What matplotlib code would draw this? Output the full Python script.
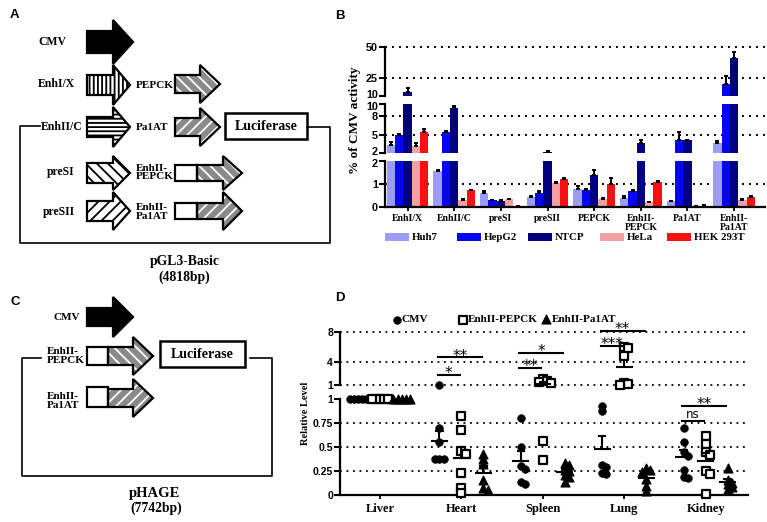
import numpy as np
import matplotlib
matplotlib.use("Agg")
import matplotlib.pyplot as plt
import matplotlib.transforms as mtransforms
from matplotlib.patches import Polygon, Rectangle

plt.rcParams["hatch.linewidth"] = 1.3
SERIF = "Liberation Serif"
SANS = "Liberation Sans"
W, H = 767, 522

# ---- panel B data (% of CMV activity) ----
constructs = ["EnhI/X", "EnhII/C", "preSI", "preSII", "PEPCK",
              "EnhII-\nPEPCK", "Pa1AT", "EnhII-\nPa1AT"]
cell_lines = ["Huh7", "HepG2", "NTCP", "HeLa", "HEK 293T"]
huh7 = [3.3, 1.55, 0.6, 0.45, 0.8, 0.4, 0.25, 3.7]
hepg2 = [5.0, 5.5, 0.3, 0.6, 0.75, 0.7, 4.2, 20.0]
ntcp = [13.5, 9.4, 0.28, 2.2, 1.4, 3.7, 4.1, 41.0]
hela = [3.2, 0.32, 0.33, 1.05, 0.35, 0.2, 0.03, 0.3]
hek = [5.5, 0.72, 0.02, 1.2, 1.0, 1.1, 0.05, 0.45]
huh7_err = [0.5, 0.06, 0.08, 0.03, 0.12, 0.06, 0.03, 0.3]
hepg2_err = [0.1, 0.1, 0.02, 0.1, 0.05, 0.03, 1.2, 6.0]
ntcp_err = [3.0, 0.3, 0.02, 0.05, 0.22, 0.4, 0.1, 5.0]
hela_err = [0.4, 0.04, 0.02, 0.05, 0.06, 0.03, 0.01, 0.04]
hek_err = [0.4, 0.03, 0.01, 0.08, 0.25, 0.04, 0.02, 0.04]
bar_colors = ["#9c9cf7", "#0505ee", "#02027c", "#f2a0a0", "#f81010"]

# ---- panel D data (relative level) ----
organs = ["Liver", "Heart", "Spleen", "Lung", "Kidney"]
groups = ["CMV", "EnhII-PEPCK", "EnhII-Pa1AT"]
cmv = [[1, 1, 1, 1, 1],
       [1.02, 0.7, 0.55, 0.38, 0.38, 0.37],
       [0.8, 0.5, 0.3, 0.27, 0.14, 0.11],
       [0.93, 0.87, 0.31, 0.295, 0.23, 0.22],
       [0.7, 0.55, 0.45, 0.41, 0.26, 0.19, 0.18]]
pepck = [[1, 1, 1, 1, 1],
         [0.82, 0.68, 0.46, 0.43, 0.23, 0.07, 0.02],
         [1.85, 1.55, 1.4, 1.3, 0.56, 0.36],
         [6.0, 5.9, 4.8, 1.2, 1.1, 1.05],
         [0.615, 0.53, 0.45, 0.42, 0.25, 0.22, 0.01]]
pa1at = [[1, 1, 1, 1, 1],
         [0.43, 0.37, 0.32, 0.16, 0.07, 0.05],
         [0.33, 0.31, 0.26, 0.25, 0.21, 0.19, 0.14],
         [0.28, 0.26, 0.24, 0.17, 0.09, 0.045],
         [0.28, 0.16, 0.13, 0.11, 0.08, 0.06]]
sig_organ = [1, 1, 2, 2, 3, 3, 4, 4]
sig_to = [1, 2, 1, 2, 1, 2, 1, 2]
sig_level = [2.32, 4.66, 3.29, 5.27, 6.19, 8.17, 0.774, 0.927]
sig_text = ["*", "**", "**", "*", "***", "**", "ns", "**"]


def px_axes(fig, x0, y0, x1, y1, **kw):
    return fig.add_axes([x0 / W, 1 - y1 / H, (x1 - x0) / W, (y1 - y0) / H], **kw)


def block_arrow(ax, x0, xb, x1, yc, bh, hh, face, hatch=None, hcol="black"):
    pts = [(x0, yc - bh), (xb, yc - bh), (xb, yc - hh), (x1, yc),
           (xb, yc + hh), (xb, yc + bh), (x0, yc + bh)]
    ax.add_patch(Polygon(pts, closed=True, facecolor=face, edgecolor="none", zorder=2))
    if hatch:
        ax.add_patch(Polygon(pts, closed=True, facecolor="none", edgecolor=hcol,
                             hatch=hatch, lw=0, zorder=3))
    ax.add_patch(Polygon(pts, closed=True, facecolor="none", edgecolor="black",
                         lw=1.6, joinstyle="miter", zorder=4))


def white_box(ax, x0, x1, yc, hh):
    ax.add_patch(Rectangle((x0, yc - hh), x1 - x0, 2 * hh, facecolor="white",
                           edgecolor="black", lw=1.6, zorder=4))


def label(ax, x, y, s, size=8, ha="left"):
    ax.text(x, y, s, ha=ha, va="center", fontfamily=SERIF, fontweight="bold",
            fontsize=size, linespacing=0.95)


def nudge(ax, idx, dy_pt):
    # shift one y tick label up/down so labels at an axis break don't collide
    lab = ax.get_yticklabels()[idx]
    lab.set_transform(lab.get_transform()
                      + mtransforms.ScaledTranslation(0, dy_pt / 72, fig.dpi_scale_trans))


fig = plt.figure(figsize=(W / 100, H / 100), dpi=100)

# ---------------- overlay for diagrams ----------------
ov = fig.add_axes([0, 0, 1, 1], zorder=-1)
ov.set_xlim(0, W)
ov.set_ylim(H, 0)
ov.axis("off")
GRAY = "#8a8a8a"

# panel A
label(ov, 38, 42, "CMV", 8.5)
block_arrow(ov, 87, 113, 133, 42, 11, 22, "black")
label(ov, 38, 84, "EnhI/X", 8.5)
block_arrow(ov, 87, 113, 130, 85, 10, 20, "white", "||||")
label(ov, 41, 127, "EnhII/C", 8.5)
block_arrow(ov, 87, 113, 130, 127, 10, 20, "white", "----")
label(ov, 47, 172, "preSI", 8.5)
block_arrow(ov, 87, 113, 130, 173, 10, 17, "white", "\\\\\\")
label(ov, 43, 212, "preSII", 8.5)
block_arrow(ov, 87, 113, 130, 211, 10, 19, "white", "///")
label(ov, 136, 85, "PEPCK")
block_arrow(ov, 175, 200, 220, 84, 9, 19, GRAY, "\\\\\\", "white")
label(ov, 136, 128, "Pa1AT")
block_arrow(ov, 175, 200, 220, 127, 9, 19, GRAY, "///", "white")
label(ov, 136, 172.5, "EnhII-\nPEPCK")
white_box(ov, 175, 197, 173, 8)
block_arrow(ov, 197, 223, 242, 173, 8, 17, GRAY, "\\\\\\", "white")
label(ov, 136, 212, "EnhII-\nPa1AT")
white_box(ov, 175, 197, 211, 8)
block_arrow(ov, 197, 223, 242, 211, 8, 19, GRAY, "///", "white")
ov.add_patch(Rectangle((225, 113), 82, 26, facecolor="white", edgecolor="black", lw=1.8))
label(ov, 266, 126, "Luciferase", 10, "center")
ov.plot([40, 20, 20, 330, 330, 307], [126, 126, 243, 243, 127, 127], color="black", lw=1.2)
label(ov, 185, 262, "pGL3-Basic", 9.8, "center")
label(ov, 184, 277, "(4818bp)", 9.8, "center")

# panel C
label(ov, 53, 318, "CMV")
block_arrow(ov, 87, 113, 133, 317, 9, 20, "black")
label(ov, 47, 356, "EnhII-\nPEPCK")
white_box(ov, 87, 108, 356, 9)
block_arrow(ov, 108, 133, 153, 356, 9, 19, GRAY, "\\\\\\", "white")
label(ov, 47, 401, "EnhII-\nPa1AT")
white_box(ov, 87, 108, 397, 10)
block_arrow(ov, 108, 133, 153, 398, 9, 19, GRAY, "///", "white")
ov.add_patch(Rectangle((160, 341), 85, 26, facecolor="white", edgecolor="black", lw=1.8))
label(ov, 202.5, 354, "Luciferase", 10, "center")
ov.plot([41, 22, 22, 272, 272, 250], [358, 358, 476, 476, 358, 358], color="black", lw=1.2)
label(ov, 155, 493, "pHAGE", 10.5, "center")
label(ov, 156, 508, "(7742bp)", 9.8, "center")

# panel letters
for s, x, y in [("A", 14, 15), ("B", 340, 16), ("C", 15, 302), ("D", 340, 298)]:
    ov.text(x, y, s, ha="center", va="center", fontfamily=SANS, fontweight="bold", fontsize=9.5)

# ---------------- panel B ----------------
b_lo = px_axes(fig, 385, 161, 765, 207)
b_mid = px_axes(fig, 385, 104, 765, 153)
b_top = px_axes(fig, 385, 47, 765, 96)
segs = [(b_lo, (0, 2), [0, 1, 2], [1]),
        (b_mid, (2, 10), [2, 5, 8, 10], [5, 8]),
        (b_top, (10, 50), [10, 25, 50], [25, 50])]
gstep = 5.6
base = np.arange(len(constructs)) * gstep
series = [huh7, hepg2, ntcp, hela, hek]
errs = [huh7_err, hepg2_err, ntcp_err, hela_err, hek_err]
for ax, lim, ticks, grid in segs:
    ax.set_xlim(-0.7, 44.9)
    ax.set_ylim(*lim)
    ax.patch.set_alpha(0)
    ax.set_yticks(ticks)
    ax.set_yticklabels([str(t) for t in ticks], fontfamily=SANS, fontweight="bold", fontsize=7.8)
    for s in ["top", "right", "bottom"]:
        ax.spines[s].set_visible(False)
    ax.spines["left"].set_linewidth(1.6)
    ax.tick_params(axis="y", width=1.5, length=4, pad=1)
    for g in grid:
        ax.axhline(g, color="black", lw=1.4, ls=(0, (1, 2.6)), clip_on=False, zorder=0)
    for j in range(len(series)):
        ax.bar(base + j, series[j], width=1.0, color=bar_colors[j], edgecolor="none", zorder=2)
    if ax is not b_lo:
        ax.set_xticks([])

nudge(b_top, 0, 1.6)
nudge(b_mid, 3, -1.6)
nudge(b_mid, 0, 1.6)
nudge(b_lo, 2, -1.6)

for j in range(len(series)):
    for xi, v, e in zip(base + j, series[j], errs[j]):
        ax = b_lo if v <= 2 else (b_mid if v <= 10 else b_top)
        ax.errorbar(xi, v, yerr=[[0], [e]], fmt="none", ecolor="black",
                    elinewidth=1.4, capsize=1.6, capthick=1.4, zorder=3)

b_lo.spines["bottom"].set_visible(True)
b_lo.spines["bottom"].set_linewidth(1.6)
b_lo.set_xticks(base + 2)
b_lo.set_xticklabels(constructs, fontfamily=SERIF, fontweight="bold", fontsize=7, linespacing=0.95)
b_lo.tick_params(axis="x", width=1.3, length=3, pad=2)
fig.text(355 / W, 1 - 120 / H, "% of CMV activity", rotation=90, ha="center", va="center",
         fontfamily=SERIF, fontweight="bold", fontsize=9.5)

# legend B
leg_x = [385, 457, 528, 600, 667]
for j, name in enumerate(cell_lines):
    ov.add_patch(Rectangle((leg_x[j], 233), 24, 8, facecolor=bar_colors[j], edgecolor="none"))
    ov.text(leg_x[j] + 27, 237, name, ha="left", va="center", fontfamily=SERIF,
            fontweight="bold", fontsize=7.8)

# ---------------- panel D ----------------
d_up = px_axes(fig, 340, 332, 748, 385)
d_lo = px_axes(fig, 340, 399, 748, 495)
for ax in (d_up, d_lo):
    ax.set_xlim(-0.49, 4.52)
    ax.patch.set_alpha(0)
    for s in ["top", "right", "bottom"]:
        ax.spines[s].set_visible(False)
    ax.spines["left"].set_linewidth(1.6)
    ax.tick_params(axis="y", width=1.5, length=4, pad=1)
d_up.set_ylim(1, 8)
d_up.set_yticks([1, 4, 8])
d_up.set_yticklabels(["1", "4", "8"], fontfamily=SANS, fontweight="bold", fontsize=7.5)
d_up.set_xticks([])
for g in [1, 4, 8]:
    d_up.axhline(g, color="black", lw=1.3, ls=(0, (1, 2.6)), clip_on=False, zorder=0)
d_lo.set_ylim(0, 1)
d_lo.set_yticks([0, 0.25, 0.5, 0.75, 1])
d_lo.set_yticklabels(["0", "0.25", "0.5", "0.75", "1"], fontfamily=SANS, fontweight="bold", fontsize=7.5)
for g in [0.25, 0.5, 0.75]:
    d_lo.axhline(g, color="black", lw=1.3, ls=(0, (1, 2.6)), zorder=0)
d_lo.spines["bottom"].set_visible(True)
d_lo.spines["bottom"].set_linewidth(1.6)
d_lo.set_xticks(range(len(organs)))
d_lo.set_xticklabels(organs, fontfamily=SERIF, fontweight="bold", fontsize=9)
d_lo.tick_params(axis="x", width=1.3, length=3, pad=3)
fig.text(305 / W, 1 - 413 / H, "Relative Level", rotation=90, ha="center", va="center",
         fontfamily=SERIF, fontweight="bold", fontsize=7.5)

X_PX = 408 / 5.01


def to_px(v):
    return 495 - 96 * v if v <= 1 else 385 - (v - 1) * 53 / 7


def swarm(vals, d=4.2):
    placed, offs = [], []
    for v in vals:
        py = to_px(v)
        for k in [0, 1, -1, 2, -2, 3, -3, 4, -4]:
            px = k * d
            if all((px - qx) ** 2 + (py - qy) ** 2 >= d * d for qx, qy in placed):
                break
        placed.append((px, py))
        offs.append(px / X_PX)
    return np.array(offs)


goff = [-0.27, 0.0, 0.27]
gstyle = [dict(marker="o", s=30, facecolor="black", edgecolor="black", linewidths=0.5),
          dict(marker="s", s=30, facecolor="white", edgecolor="black", linewidths=1.6),
          dict(marker="^", s=42, facecolor="black", edgecolor="black", linewidths=0.8)]
for gi, data in enumerate([cmv, pepck, pa1at]):
    for oi, vals in enumerate(data):
        vals = np.array(vals, dtype=float)
        xs = oi + goff[gi] + swarm(vals)
        lo = vals <= 1
        d_lo.scatter(xs[lo], vals[lo], zorder=4, clip_on=False, **gstyle[gi])
        d_up.scatter(xs[~lo], vals[~lo], zorder=4, clip_on=False, **gstyle[gi])
        sem = vals.std(ddof=1) / np.sqrt(len(vals))
        if sem == 0:
            continue
        m = vals.mean()
        xc = oi + goff[gi]
        for ax in (d_lo, d_up):
            ax.plot([xc - 0.09, xc + 0.09], [m, m], color="black", lw=1.5, zorder=5)
            ax.plot([xc, xc], [m, m + sem], color="black", lw=1.5, zorder=5)
            ax.plot([xc - 0.04, xc + 0.04], [m + sem, m + sem], color="black", lw=1.5, zorder=5)

for oi, gt, lev, txt in zip(sig_organ, sig_to, sig_level, sig_text):
    ax = d_lo if lev <= 1 else d_up
    x0 = oi + goff[0] - 0.02
    x1 = oi + goff[gt] - 0.02
    ax.plot([x0, x1], [lev, lev], color="black", lw=1.5, clip_on=False, zorder=5)
    if txt == "ns":
        ax.annotate(txt, xy=((x0 + x1) / 2, lev), xytext=(0, 2), textcoords="offset points",
                    ha="center", va="baseline", fontfamily="DejaVu Sans", fontsize=8.5,
                    annotation_clip=False)
    else:
        ax.annotate(txt, xy=((x0 + x1) / 2, lev), xytext=(0, -2.5), textcoords="offset points",
                    ha="center", va="baseline", fontfamily="DejaVu Sans", fontsize=11,
                    annotation_clip=False)

# legend D
ov.scatter([396.7], [319.5], **gstyle[0])
ov.text(402, 319.5, "CMV", ha="left", va="center", fontfamily=SERIF, fontweight="bold", fontsize=8)
ov.scatter([462.7], [319.5], **gstyle[1])
ov.text(468, 319.5, "EnhII-PEPCK", ha="left", va="center", fontfamily=SERIF, fontweight="bold", fontsize=8)
ov.scatter([546], [319], **gstyle[2])
ov.text(552, 319.5, "EnhII-Pa1AT", ha="left", va="center", fontfamily=SERIF, fontweight="bold", fontsize=8)

fig.savefig("out.png", dpi=100)
